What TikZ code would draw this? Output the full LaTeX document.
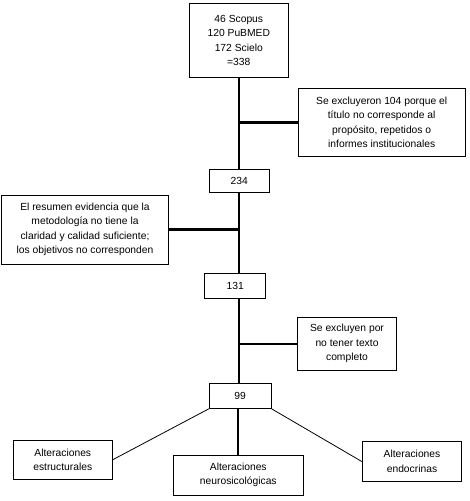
\documentclass[tikz,border=0pt]{standalone}
\usepackage{fontspec}
\setmainfont{Liberation Sans}
\begin{document}
\begin{tikzpicture}[x=1pt,y=-1pt,
  box/.style={draw,line width=1pt,rectangle,inner sep=0pt,align=center,
    font=\fontsize{10.3}{14.5}\selectfont},
  spine/.style={line width=2.2pt},
  thin/.style={line width=0.8pt}]
\useasboundingbox (0,0) rectangle (469,501);
\node[box,minimum width=99pt,minimum height=74pt] (top) at (238.8,40.3)
  {46 Scopus\\120 PuBMED\\172 Scielo\\=338};
\node[box,minimum width=166.7pt,minimum height=68.4pt] (ex1) at (381.7,122.5)
  {Se excluyeron 104 porque el\\título no corresponde al\\propósito, repetidos o\\informes institucionales};
\node[box,minimum width=60.3pt,minimum height=22.7pt] (n234) at (239.2,180.7) {234};
\node[box,minimum width=166.6pt,minimum height=69pt] (ex2) at (85,229.5)
  {El resumen evidencia que la\\metodología no tiene la\\claridad y calidad suficiente;\\los objetivos no corresponden};
\node[box,minimum width=61pt,minimum height=25pt] (n131) at (235.2,285.8) {131};
\node[box,minimum width=99.4pt,minimum height=53pt] (ex3) at (347,343.8)
  {Se excluyen por\\no tener texto\\completo};
\node[box,minimum width=61.7pt,minimum height=25pt] (n99) at (240.2,395.8) {99};
\node[box,minimum width=99pt,minimum height=39.3pt] (b1) at (62.8,459.7)
  {Alteraciones\\estructurales};
\node[box,minimum width=130pt,minimum height=40pt] (b2) at (238.3,475)
  {Alteraciones\\neurosicológicas};
\node[box,minimum width=99.4pt,minimum height=40.4pt] (b3) at (412,461.5)
  {Alteraciones\\endocrinas};
% spine
\draw[spine] (top.south) -- (top.south |- n234.north);
\draw[spine] (n234.south) -- (n234.south |- n131.north);
\draw[spine] (n131.south -| n234.south) -- (n99.north -| n234.south);
\draw[spine] (n99.south -| b2.north) -- (b2.north);
% branches
\draw[spine] (ex1.west -| top.south) -- (ex1.west);
\draw[spine] (ex2.east -| n234.south) -- (ex2.east);
\draw[spine] (ex3.west -| n234.south) -- (ex3.west);
% diagonals
\draw[thin] (n99.south west) -- (b1.east);
\draw[thin] (n99.south east) -- (b3.west);
\end{tikzpicture}
\end{document}
